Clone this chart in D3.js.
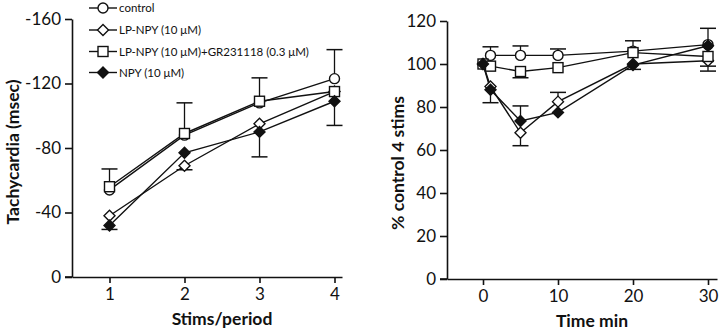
<!DOCTYPE html>
<html><head><meta charset="utf-8">
<script src="https://cdn.jsdelivr.net/npm/d3@7"></script>
<style>body{margin:0;background:#fff}svg{display:block}text{font-family:Lato,"Noto Sans",sans-serif;fill:#111}</style>
</head><body>
<svg id="c" width="720" height="330"></svg>
<script>
// ---- data ----
const stims = [1, 2, 3, 4];
const leftControl = [-54, -88, -108, -123];
const leftLP = [-38, -69, -95, -115];
const leftLPGR = [-56, -89, -109, -115];
const leftNPY = [-32, -77, -90, -109];
// error bars: [x, from, to]
const leftErr = [[1,-56,-67],[1,-32,-29.5],[2,-89,-108],[2,-69,-66.5],[3,-109,-123.5],[3,-90,-74.5],[4,-123,-141],[4,-109,-94]];
const leftYTicks = [0, -40, -80, -120, -160];
const leftXTicks = [1, 2, 3, 4];

const times = [0, 1, 5, 10, 20, 30];
const rightControl = [100, 104, 104, 104, 106, 109];
const rightLP = [100, 89.5, 68, 82.5, 100, 101.5];
const rightLPGR = [100, 99, 96.5, 98.3, 105.3, 103.5];
const rightNPY = [100, 88, 73.5, 77.5, 99.5, 108.5];
const rightErr = [[1,104,108],[1,88,82],[5,104,108.4],[5,96.5,93.6],[5,73.5,80.5],[5,68,62],[10,104,107],[10,82.5,86.8],[20,106,110.8],[20,99.5,97.5],[30,109,116.6],[30,103.5,99],[30,101.5,96.7]];
const rightYTicks = [0, 20, 40, 60, 80, 100, 120];
const rightXTicks = [0, 10, 20, 30];

const legendLabels = ["control", "LP-NPY (10 μM)", "LP-NPY (10 μM)+GR231118 (0.3 μM)", "NPY (10 μM)"];
const markerTypes = ["circle", "diamond", "square", "fdiamond"];

const svg = d3.select("#c");

function marker(g, type, x, y) {
  if (type === "circle") g.append("circle").attr("cx", x).attr("cy", y).attr("r", 5).attr("fill", "#fff").attr("stroke", "#111").attr("stroke-width", 1.4);
  else if (type === "square") g.append("rect").attr("x", x - 5).attr("y", y - 5).attr("width", 10).attr("height", 10).attr("fill", "#fff").attr("stroke", "#111").attr("stroke-width", 1.4);
  else {
    const s = 5.5;
    g.append("path").attr("d", `M${x},${y - s}L${x + s},${y}L${x},${y + s}L${x - s},${y}Z`)
      .attr("fill", type === "fdiamond" ? "#111" : "#fff").attr("stroke", "#111").attr("stroke-width", 1.4);
  }
}

function panel(xs, series, errs, xDomain, xRange, yDomain, yRange, xTicks, yTicks, xTitle, yTitle, xTitlePos, yTitlePos) {
  const x = d3.scaleLinear().domain(xDomain).range(xRange);
  const y = d3.scaleLinear().domain(yDomain).range(yRange);
  const g = svg.append("g");
  const ax = g.append("g").attr("transform", `translate(0,${yRange[0]})`)
    .call(d3.axisBottom(x).tickValues(xTicks).tickFormat(d3.format("d")).tickSize(6).tickPadding(5).tickSizeOuter(0));
  const ay = g.append("g").attr("transform", `translate(${xRange[0]},0)`)
    .call(d3.axisLeft(y).tickValues(yTicks).tickSize(7).tickPadding(4).tickSizeOuter(0));
  [ax, ay].forEach(a => {
    a.selectAll("path,line").attr("stroke", "#111").attr("stroke-width", 1.6);
    a.selectAll("text").attr("font-size", 17).attr("fill", "#111").style("font-family", "Lato, sans-serif");
  });
  ay.selectAll("text").text(d => d < 0 ? "-" + Math.abs(d) : d);
  g.append("line").attr("x1", xRange[0] - 7).attr("x2", xRange[0]).attr("y1", yRange[0]).attr("y2", yRange[0]).attr("stroke", "#111").attr("stroke-width", 1.6);
  const line = d3.line().x((d, i) => x(xs[i])).y(d => y(d));
  series.forEach(s => g.append("path").attr("d", line(s)).attr("fill", "none").attr("stroke", "#111").attr("stroke-width", 1.4));
  errs.forEach(e => {
    g.append("line").attr("x1", x(e[0])).attr("x2", x(e[0])).attr("y1", y(e[1])).attr("y2", y(e[2])).attr("stroke", "#111").attr("stroke-width", 1.3);
    g.append("line").attr("x1", x(e[0]) - 8).attr("x2", x(e[0]) + 8).attr("y1", y(e[2])).attr("y2", y(e[2])).attr("stroke", "#111").attr("stroke-width", 1.5);
  });
  [0, 1, 2, 3].forEach(k => series[k].forEach((v, i) => marker(g, markerTypes[k], x(xs[i]), y(v))));
  g.append("text").attr("x", xTitlePos[0]).attr("y", xTitlePos[1]).attr("text-anchor", "middle").attr("font-weight", "bold").attr("font-size", 17.5).text(xTitle);
  g.append("text").attr("transform", `translate(${yTitlePos[0]},${yTitlePos[1]}) rotate(-90)`).attr("text-anchor", "middle").attr("font-weight", "bold").attr("font-size", 17.5).text(yTitle);
}

panel(stims, [leftControl, leftLP, leftLPGR, leftNPY], leftErr, [0.5, 4.1], [72, 342], [0, -160], [277, 19], leftXTicks, leftYTicks, "Stims/period", "Tachycardia (msec)", [222, 325], [19, 152]);
panel(times, [rightControl, rightLP, rightLPGR, rightNPY], rightErr, [-4.8, 31.2], [447, 717], [0, 120], [279, 21], rightXTicks, rightYTicks, "Time min", "% control 4 stims", [592, 327], [404, 163]);

// legend
const legY = d3.scaleOrdinal().domain(legendLabels).range([8, 30, 51.5, 72.5]);
const lg = svg.append("g");
legendLabels.forEach((lab, k) => {
  const yy = legY(lab);
  lg.append("line").attr("x1", 89).attr("x2", 117).attr("y1", yy).attr("y2", yy).attr("stroke", "#111").attr("stroke-width", 1.4);
  marker(lg, markerTypes[k], 103, yy);
  lg.append("text").attr("x", 119).attr("y", yy + 4).attr("font-size", 11.5).text(lab);
});
</script>
</body></html>
